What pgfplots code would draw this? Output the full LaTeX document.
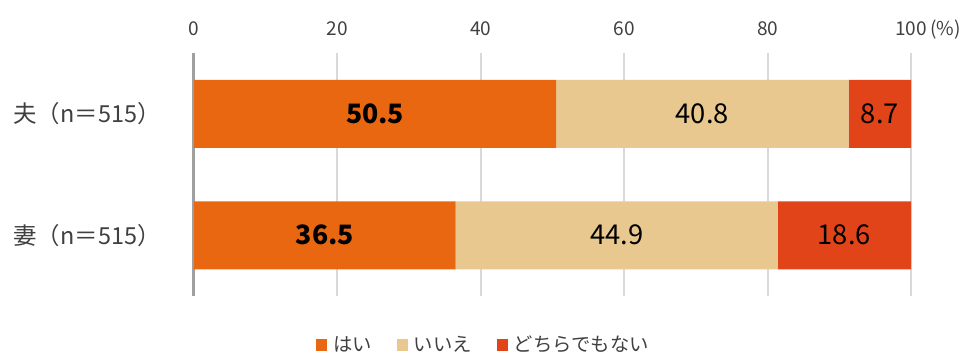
\documentclass[border=0pt]{standalone}
\usepackage{fontspec}
\setmainfont{Noto Sans CJK JP}
\usepackage{pgfplots}
\pgfplotsset{compat=1.18}
\definecolor{cyes}{HTML}{EA6711}
\definecolor{cno}{HTML}{E8C88F}
\definecolor{cneither}{HTML}{E2441A}
\definecolor{cgrid}{HTML}{D9D9D9}
\definecolor{caxis}{HTML}{A0A0A0}
\definecolor{ctext}{HTML}{404040}
\pgfplotsset{sqlegend/.style={legend image code/.code={\fill[##1] (0pt,-4.5pt) rectangle (8.5pt,4.5pt);}}}
\begin{document}
\begin{tikzpicture}
\begin{axis}[
  scale only axis,
  width=537.75pt, height=182.25pt,
  xbar stacked,
  bar width=51pt,
  xmin=0, xmax=100,
  ymin=-0.5, ymax=1.5,
  y dir=reverse,
  ytick={0,1},
  yticklabels={夫（n＝515）,妻（n＝515）},
  xtick={0,20,40,60,80,100},
  xticklabels={0,20,40,60,80,100\rlap{\,(\%)}},
  xticklabel pos=upper,
  major tick length=0pt,
  /pgf/number format/assume math mode=true,
  xticklabel style={anchor=base, yshift=13pt, font=\fontsize{14.3}{14.3}\selectfont, text=ctext},
  yticklabel style={anchor=west, xshift=-139pt, font=\fontsize{17.6}{17.6}\selectfont, text=ctext},
  xmajorgrids,
  grid style={cgrid, line width=1.5pt},
  axis x line*=top,
  x axis line style={draw=none},
  axis y line*=left,
  y axis line style={caxis, line width=2.25pt},
  legend columns=-1,
  legend style={at={(0.404,-0.2)}, anchor=center, draw=none, fill=none,
    inner sep=1pt,
    font=\fontsize{14.5}{14.5}\selectfont, text=ctext,
    /tikz/every odd column/.append style={column sep=2.5pt},
    /tikz/every even column/.append style={column sep=16.5pt}},
]
\addplot[fill=cyes, draw=none, sqlegend] coordinates {(50.5,0) (36.5,1)};
\addplot[fill=cno, draw=none, sqlegend] coordinates {(40.8,0) (44.9,1)};
\addplot[fill=cneither, draw=none, sqlegend] coordinates {(8.7,0) (18.6,1)};
\legend{はい,いいえ,どちらでもない}
\coordinate (a1) at (axis cs:25.25,0);
\coordinate (a2) at (axis cs:70.9,0);
\coordinate (a3) at (axis cs:95.65,0);
\coordinate (b1) at (axis cs:18.25,1);
\coordinate (b2) at (axis cs:58.95,1);
\coordinate (b3) at (axis cs:90.7,1);
\coordinate (o) at (axis cs:0,1.5);
\end{axis}
\begin{scope}[every node/.style={font=\fontsize{20.5}{20.5}\selectfont, text=black}]
\node[font=\fontsize{20}{20}\selectfont\bfseries] at (a1) {50.5};
\node at (a2) {40.8};
\node at (a3) {8.7};
\node[font=\fontsize{20}{20}\selectfont\bfseries] at (b1) {36.5};
\node at (b2) {44.9};
\node at (b3) {18.6};
\end{scope}
\pgfresetboundingbox
\path[use as bounding box] ([shift={(-145.5pt,-45pt)}]o) rectangle ([shift={(582pt,222pt)}]o);
\end{tikzpicture}
\end{document}
